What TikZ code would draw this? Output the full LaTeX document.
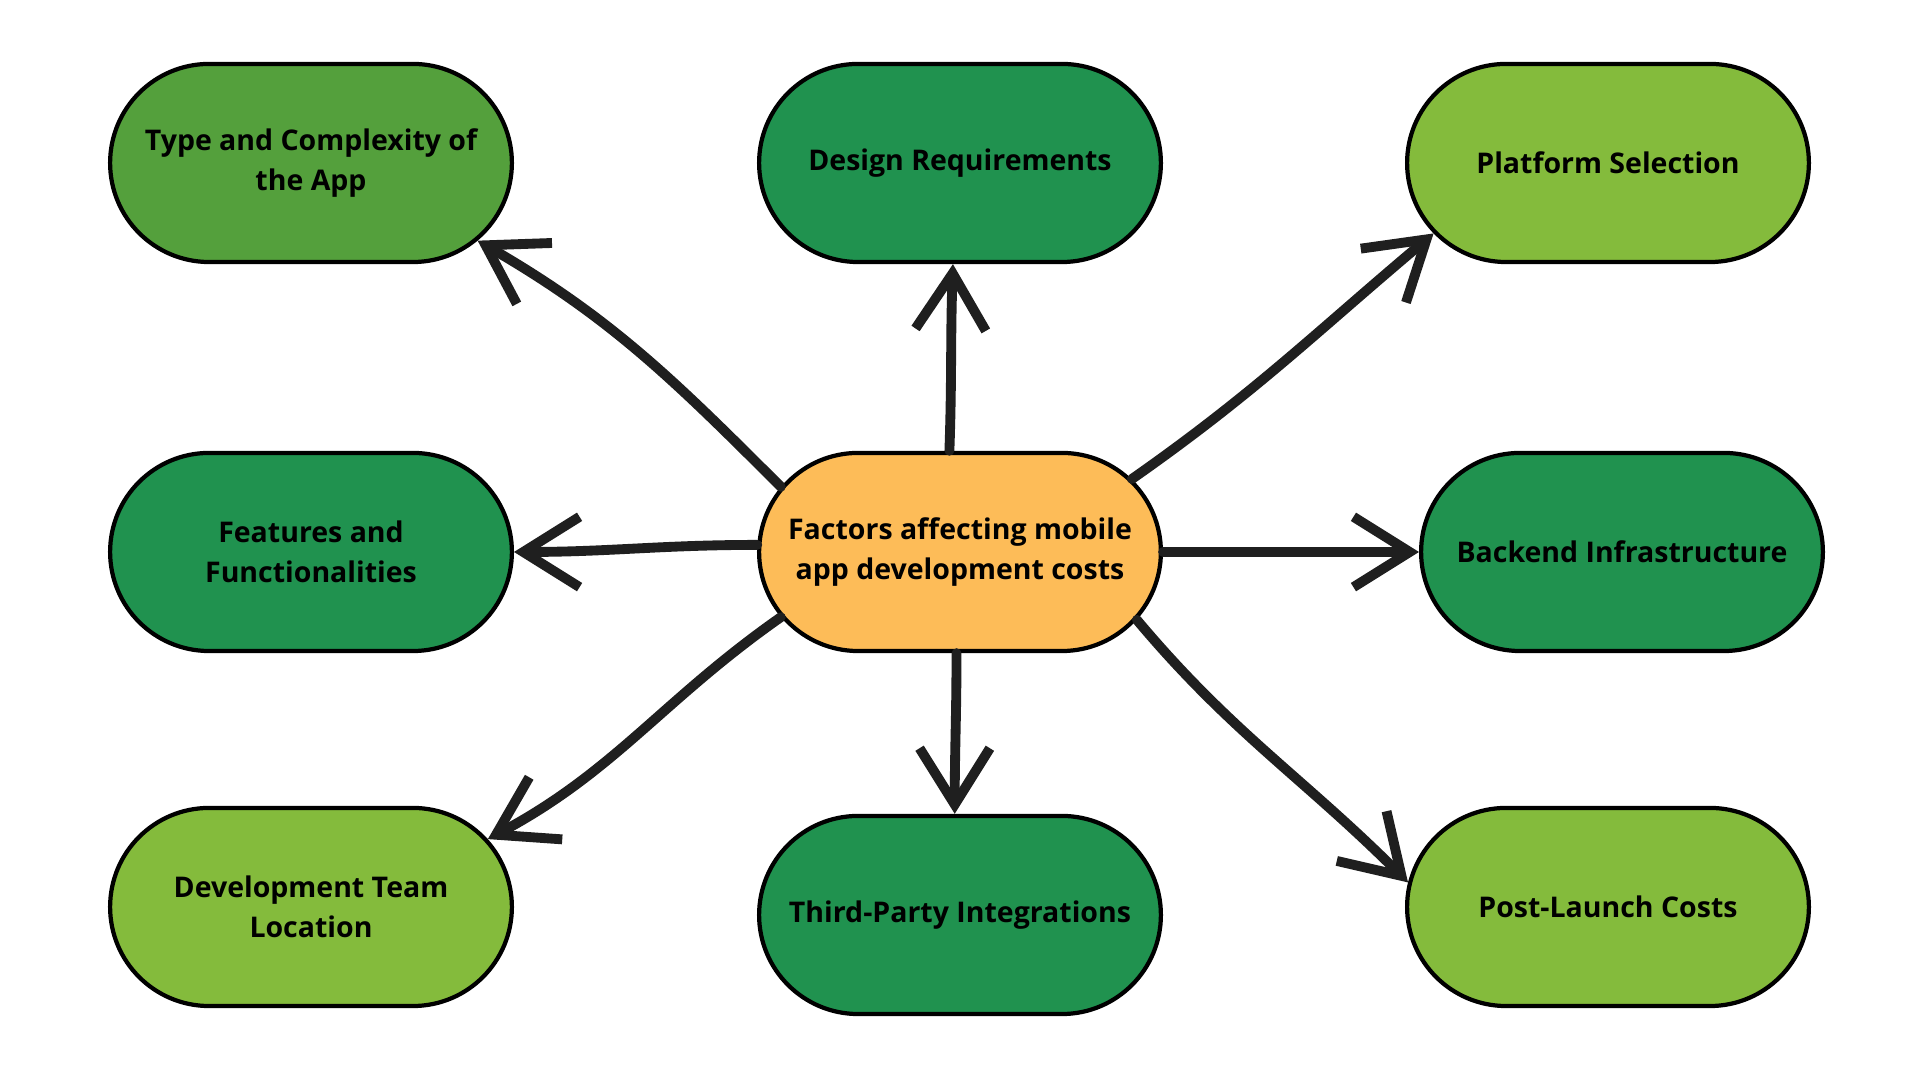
\documentclass[tikz,border=0pt]{standalone}
\usepackage{fontspec}
\setmainfont{Open Sans}
\usetikzlibrary{arrows.meta,shapes.misc}
\definecolor{midgreen}{HTML}{54A03C}
\definecolor{darkgreen}{HTML}{20924F}
\definecolor{limegreen}{HTML}{84BB3C}
\definecolor{paleorange}{HTML}{FDBC58}
\definecolor{inkblack}{HTML}{1F1F1F}

\begin{document}
\begin{tikzpicture}[x=0.01cm,y=0.01cm,
    factor/.style={rounded rectangle, draw=black, line width=1.2pt,
      minimum width=4.25cm, minimum height=1.98cm, align=center,
      font=\bfseries\fontsize{8.1}{11.4}\selectfont, text=black},
    flow/.style={draw=inkblack, line width=2.8pt, line cap=round,
      -{Straight Barb[length=16pt,width=20pt]}}]
    \fill[white] (0,0) rectangle (1920,1080);
    \useasboundingbox (0,0) rectangle (1920,1080);
    \node[factor, fill=paleorange] (ctr) at (960,528) {Factors affecting mobile\\app development costs};
    \node[factor, fill=midgreen] (type) at (311,917) {Type and Complexity of\\the App};
    \node[factor, fill=darkgreen] (design) at (960,917) {Design Requirements};
    \node[factor, fill=limegreen] (platform) at (1608,917) {Platform Selection};
    \node[factor, fill=darkgreen] (features) at (311,528) {Features and\\Functionalities};
    \node[factor, fill=darkgreen] (backend) at (1622,528) {Backend Infrastructure};
    \node[factor, fill=limegreen] (team) at (311,173) {Development Team\\Location};
    \node[factor, fill=darkgreen] (thirdparty) at (960,165) {Third-Party Integrations};
    \node[factor, fill=limegreen] (postlaunch) at (1608,173) {Post-Launch Costs};
    \draw[flow] (ctr.160) to[out=135,in=-30] (type.-25);
    \draw[flow] (ctr.96) to[out=88,in=-92] (design.-94);
    \draw[flow] (ctr.23) to[out=35,in=-140] (platform.-158);
    \draw[flow] (ctr.178) to[out=180,in=0] (features.0);
    \draw[flow] (ctr.0) to[out=0,in=180] (backend.180);
    \draw[flow] (ctr.200) to[out=215,in=28] (team.21);
    \draw[flow] (ctr.-92) to[out=-90,in=90] (thirdparty.93);
    \draw[flow] (ctr.-21) to[out=-50,in=135] (postlaunch.173);
  \end{tikzpicture}
\end{document}
